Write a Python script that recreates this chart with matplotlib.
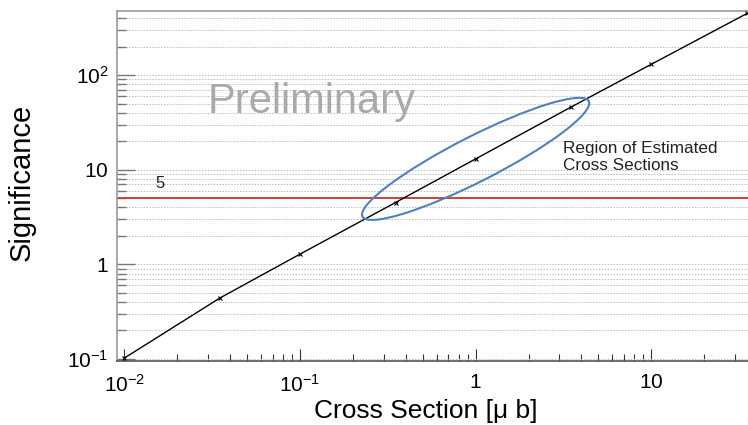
import matplotlib
matplotlib.use("Agg")
import matplotlib.pyplot as plt
from matplotlib.patches import Ellipse
from matplotlib.transforms import ScaledTranslation
from matplotlib.ticker import LogLocator, NullFormatter, FixedFormatter
import numpy as np

# ---- data ----
cross_section = [0.01, 0.035, 0.1, 0.35, 1.0, 3.5, 10.0, 35.0]
significance = [0.102, 0.44, 1.28, 4.5, 13.0, 46.0, 130.0, 447.0]
threshold = 5
x_ticks = [0.01, 0.1, 1, 10]
x_tick_labels = [r"$10^{-2}$", r"$10^{-1}$", r"$1$", r"$10$"]
y_ticks = [0.1, 1, 10, 100]
y_tick_labels = [r"$10^{-1}$", r"$1$", r"$10$", r"$10^{2}$"]
ellipse_center = (1.0, 13.0)

plt.rcParams['font.family'] = ['Liberation Sans', 'DejaVu Sans']
plt.rcParams['mathtext.fontset'] = 'custom'
plt.rcParams['mathtext.rm'] = 'Liberation Sans'
plt.rcParams['mathtext.it'] = 'Liberation Sans:italic'
plt.rcParams['mathtext.bf'] = 'Liberation Sans:bold'

W, H = 748, 425
fig = plt.figure(figsize=(W / 100, H / 100), dpi=100)
ax = fig.add_axes([117 / W, 1 - 361 / H, 1 - 117 / W, (361 - 11) / H])

ax.set_xscale('log')
ax.set_yscale('log')
ax.set_xlim(0.0091, 35.5)
ax.set_ylim(0.0952, 475)

# grid lines (horizontal only, major + minor)
ax.yaxis.set_minor_locator(LogLocator(base=10, subs=np.arange(2, 10)))
ax.xaxis.set_minor_locator(LogLocator(base=10, subs=np.arange(2, 10)))
ax.grid(True, axis='y', which='both', linestyle=(0, (1.5, 1.5)), color='#bdbdbd', linewidth=0.7)
ax.set_axisbelow(True)

# threshold line
ax.axhline(threshold, color='#cc3333', linewidth=1.3, zorder=2)
ax.text(0.016, 6.0, str(threshold), fontsize=12, ha='center', va='bottom', color='#222222')

# main curve
ax.plot(cross_section, significance, color='black', linewidth=1.0, marker='x',
        markersize=3, markeredgewidth=0.8, zorder=3, clip_on=False)

# ellipse around the estimated region
trans = fig.dpi_scale_trans + ScaledTranslation(ellipse_center[0], ellipse_center[1], ax.transData)
ell = Ellipse((0, 0), width=2.54, height=0.45, angle=27, transform=trans,
              fill=False, edgecolor='#4f81bd', linewidth=1.5, zorder=4)
ax.add_patch(ell)

fig.text(563 / W, 1 - 170 / H, "Region of Estimated\nCross Sections",
         fontsize=12.3, ha='left', va='baseline', linespacing=1.2, color='#222222')
fig.text(208 / W, 1 - 113 / H, "Preliminary", fontsize=30, color='#aaaaaa',
         ha='left', va='baseline')

# ticks
ax.set_xticks(x_ticks)
ax.xaxis.set_major_formatter(FixedFormatter(x_tick_labels))
ax.xaxis.set_minor_formatter(NullFormatter())
ax.set_yticks(y_ticks)
ax.yaxis.set_major_formatter(FixedFormatter(y_tick_labels))
ax.yaxis.set_minor_formatter(NullFormatter())

ax.tick_params(axis='x', which='major', direction='in', length=9, width=0.8, color='#333333',
               labelsize=15, pad=9, top=False)
ax.tick_params(axis='x', which='minor', direction='in', length=5, width=0.8, color='#333333', top=False)
ax.tick_params(axis='y', which='major', direction='in', length=13, width=1.0, color='#777777',
               labelsize=15, pad=6, right=False)
ax.tick_params(axis='y', which='minor', direction='in', length=6.5, width=1.0, color='#777777', right=False)

for s in ['left', 'top', 'bottom']:
    ax.spines[s].set_color('#999999')
    ax.spines[s].set_linewidth(1.2)
ax.spines['bottom'].set_color('#555555')
ax.spines['right'].set_visible(False)

# axis titles
fig.text(426 / W, 1 - 418 / H, "Cross Section [μ b]", fontsize=19, ha='center', va='baseline')
fig.text(30 / W, 1 - 182 / H, "Significance", fontsize=21, ha='center', va='baseline',
         rotation=90, rotation_mode='anchor')

fig.savefig("out.png", dpi=100)
